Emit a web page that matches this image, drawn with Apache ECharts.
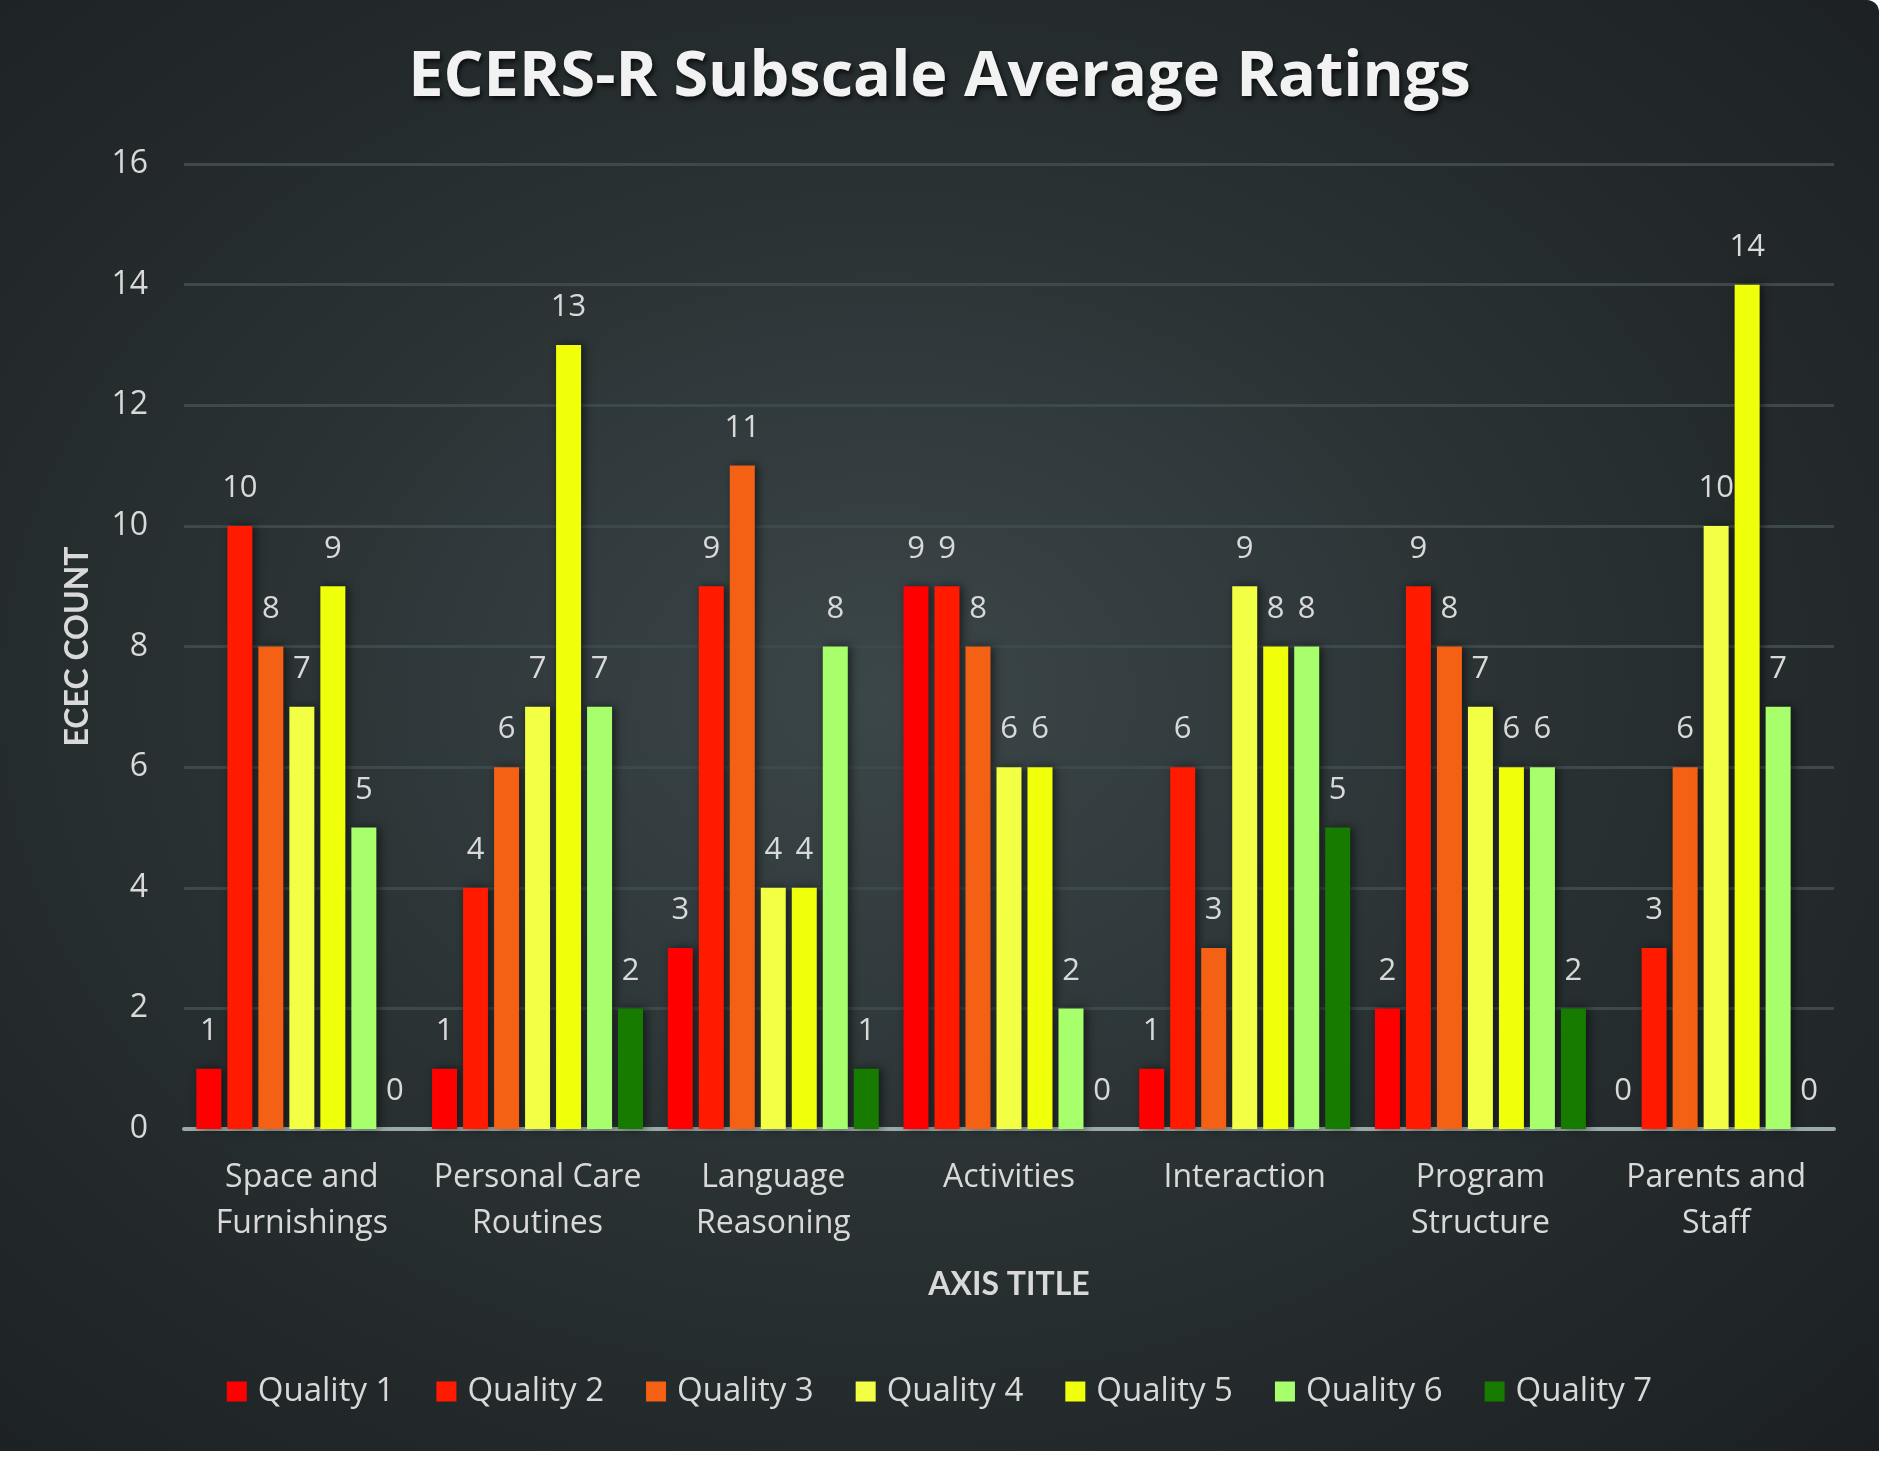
<!DOCTYPE html>
<html>
<head>
<meta charset="utf-8">
<script src="https://cdn.jsdelivr.net/npm/echarts@6/dist/echarts.min.js"></script>
<style>
html,body{margin:0;padding:0;background:#ffffff;width:1894px;height:1465px;overflow:hidden;}
#chart{position:absolute;left:0;top:0;width:1879px;height:1451px;border-top-right-radius:12px;
background:radial-gradient(ellipse 75% 75% at 47% 48%, #3c4749 0%, #2a3234 45%, #1b1f21 100%);}
</style>
</head>
<body>
<div id="chart"></div>
<script>
const categories = ['Space and\nFurnishings','Personal Care\nRoutines','Language\nReasoning','Activities','Interaction','Program\nStructure','Parents and\nStaff'];
const seriesNames = ['Quality 1','Quality 2','Quality 3','Quality 4','Quality 5','Quality 6','Quality 7'];
const quality1 = [1, 1, 3, 9, 1, 2, 0];
const quality2 = [10, 4, 9, 9, 6, 9, 3];
const quality3 = [8, 6, 11, 8, 3, 8, 6];
const quality4 = [7, 7, 4, 6, 9, 7, 10];
const quality5 = [9, 13, 4, 6, 8, 6, 14];
const quality6 = [5, 7, 8, 2, 8, 6, 7];
const quality7 = [0, 2, 1, 0, 5, 2, 0];
const colors = ['#ff0000','#ff1a00','#f56114','#f2ff45','#f0ff0a','#a6ff6b','#177b00'];
const yTicks = [0, 2, 4, 6, 8, 10, 12, 14, 16];

const allData = [quality1, quality2, quality3, quality4, quality5, quality6, quality7];
const font = 'Lato, "Open Sans", sans-serif';
const wfont = '"Open Sans", Lato, sans-serif';
const txt = '#d9d9d9';

const chart = echarts.init(document.getElementById('chart'), null, {renderer:'canvas'});
chart.setOption({
  backgroundColor: 'transparent',
  title: {
    text: 'ECERS-R Subscale Average Ratings',
    left: 'center', top: 42,
    textStyle: {color:'#f2f2f2', fontFamily: wfont, fontWeight:'bold', fontSize: 63,
      textShadowColor:'rgba(0,0,0,0.7)', textShadowBlur:5, textShadowOffsetX:2, textShadowOffsetY:3}
  },
  legend: {
    bottom: 38, left: 'center',
    itemWidth: 20, itemHeight: 20, itemGap: 42,
    icon: 'rect',
    textStyle: {color: txt, fontFamily: wfont, fontSize: 33, padding:[0,0,0,6]},
    data: seriesNames
  },
  grid: {left: 184, right: 45, top: 164, bottom: 322, containLabel: false},
  xAxis: {
    type: 'category', data: categories,
    name: 'AXIS TITLE', nameLocation: 'middle', nameGap: 140,
    nameTextStyle: {color: txt, fontFamily: font, fontWeight:'bold', fontSize: 32},
    axisLine: {show:true, lineStyle:{color:'#9aaaa6', width:4}},
    axisTick: {show:false},
    axisLabel: {color: txt, fontFamily: wfont, fontSize: 32, lineHeight: 46, margin: 26, interval: 0}
  },
  yAxis: {
    type: 'value', min: yTicks[0], max: yTicks[yTicks.length-1], interval: 2,
    name: 'ECEC COUNT', nameLocation: 'middle', nameGap: 90, nameRotate: 90,
    nameTextStyle: {color: txt, fontFamily: font, fontWeight:'bold', fontSize: 32},
    axisLine: {show:false}, axisTick: {show:false},
    axisLabel: {color: txt, fontFamily: wfont, fontSize: 32, margin: 36},
    splitLine: {lineStyle: {color:'#3e494b', width:3}}
  },
  series: seriesNames.map((n, i) => ({
    name: n, type: 'bar', data: allData[i],
    barWidth: 25, barGap: '24%',
    itemStyle: {color: colors[i], shadowColor:'rgba(0,0,0,0.55)', shadowBlur:10, shadowOffsetX:3, shadowOffsetY:0},
    label: {show: true, position: 'top', distance: 22, color: txt, fontFamily: wfont, fontSize: 31},
    emphasis: {disabled: true},
    animation: false
  })),
  animation: false
});
</script>
</body>
</html>
